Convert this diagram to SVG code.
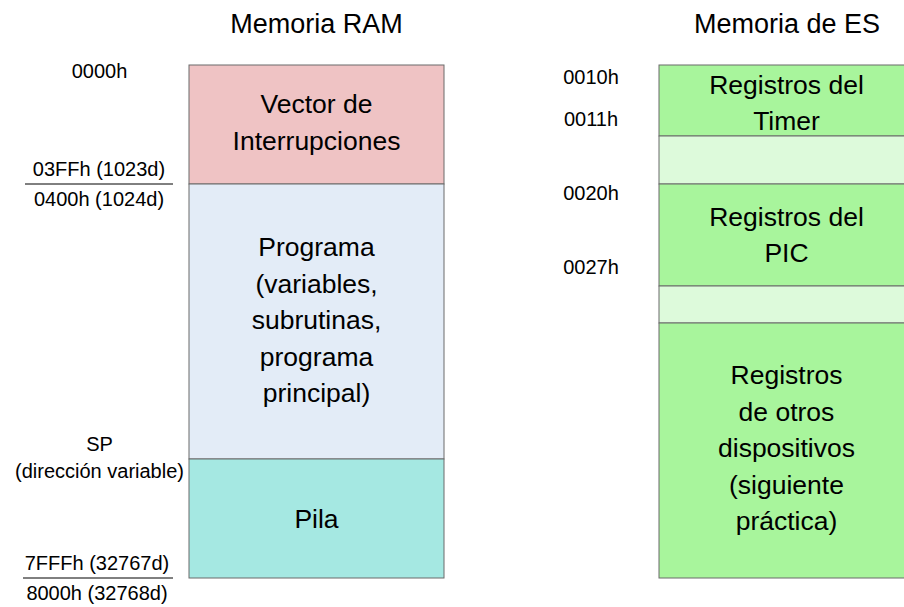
<svg xmlns="http://www.w3.org/2000/svg" width="904" height="607" viewBox="0 0 904 607">
<style>
text{font-family:"Liberation Sans",Arial,sans-serif;fill:#000;text-anchor:middle}
.t{font-size:27px}
.b{font-size:26.5px}
.l{font-size:20px}
.box{stroke:#6b6b6b;stroke-width:1}
.sep{stroke:#000;stroke-width:1}
</style>
<rect width="904" height="607" fill="#fff"/>
<g id="titles">
<text class="t" x="316.5" y="33">Memoria RAM</text>
<text class="t" x="787" y="33">Memoria de ES</text>
</g>
<g id="vector">
<rect class="box" x="189" y="65" width="255" height="119" fill="#efc3c4"/>
<text class="b" x="316.5" y="113">Vector de</text>
<text class="b" x="316.5" y="150">Interrupciones</text>
</g>
<g id="programa">
<rect class="box" x="189" y="184" width="255" height="275" fill="#e3ecf7"/>
<text class="b" x="316.5" y="256">Programa</text>
<text class="b" x="316.5" y="292.5">(variables,</text>
<text class="b" x="316.5" y="329">subrutinas,</text>
<text class="b" x="316.5" y="365.5">programa</text>
<text class="b" x="316.5" y="402">principal)</text>
</g>
<g id="pila">
<rect class="box" x="189" y="459" width="255" height="119" fill="#a5e8e2"/>
<text class="b" x="316.5" y="528">Pila</text>
</g>
<g id="ram-labels">
<text class="l" x="99.5" y="78">0000h</text>
<text class="l" x="99" y="176">03FFh (1023d)</text>
<line class="sep" x1="25" y1="184" x2="173" y2="184"/>
<text class="l" x="99" y="206">0400h (1024d)</text>
<text class="l" x="99.5" y="451">SP</text>
<text class="l" x="99.5" y="477.5">(dirección variable)</text>
<text class="l" x="97" y="570">7FFFh (32767d)</text>
<line class="sep" x1="23" y1="578" x2="173" y2="578"/>
<text class="l" x="97" y="600">8000h (32768d)</text>
</g>
<g id="timer">
<rect class="box" x="659" y="65" width="255" height="71" fill="#a8f59c"/>
<text class="b" x="786.5" y="94">Registros del</text>
<text class="b" x="786.5" y="130">Timer</text>
</g>
<g id="gap1">
<rect class="box" x="659" y="136" width="255" height="48" fill="#ddfadb"/>
</g>
<g id="pic">
<rect class="box" x="659" y="184" width="255" height="102" fill="#a8f59c"/>
<text class="b" x="786.5" y="226">Registros del</text>
<text class="b" x="786.5" y="262">PIC</text>
</g>
<g id="gap2">
<rect class="box" x="659" y="286" width="255" height="37" fill="#ddfadb"/>
</g>
<g id="otros">
<rect class="box" x="659" y="323" width="255" height="255" fill="#a8f59c"/>
<text class="b" x="786.5" y="384">Registros</text>
<text class="b" x="786.5" y="420.5">de otros</text>
<text class="b" x="786.5" y="457">dispositivos</text>
<text class="b" x="786.5" y="493.5">(siguiente</text>
<text class="b" x="786.5" y="530">práctica)</text>
</g>
<g id="es-labels">
<text class="l" x="591" y="84">0010h</text>
<text class="l" x="591" y="126">0011h</text>
<text class="l" x="591" y="200">0020h</text>
<text class="l" x="591" y="274">0027h</text>
</g>
<g id="connectors"></g>
</svg>
